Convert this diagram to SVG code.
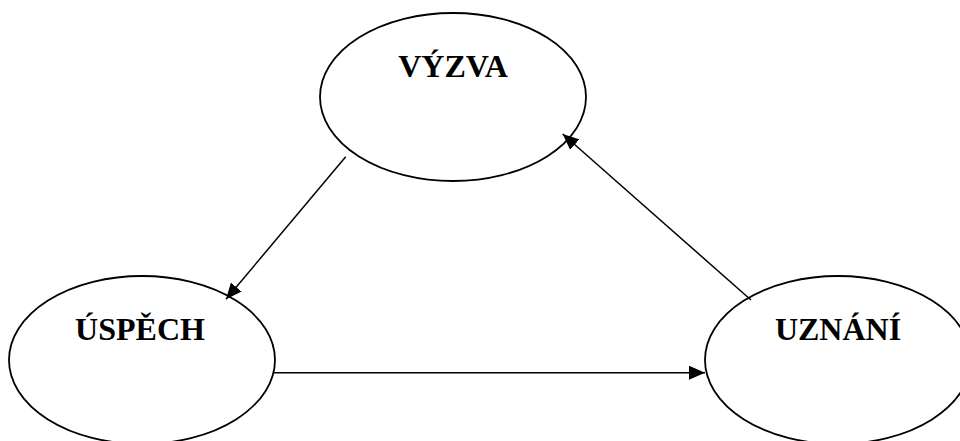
<svg xmlns="http://www.w3.org/2000/svg" width="960" height="441" viewBox="0 0 960 441">
<style>
.node{fill:#fff;stroke:#000;stroke-width:1.8}
.lbl{font-family:"Liberation Serif","Times New Roman",serif;font-weight:bold;font-size:32px;fill:#000;text-anchor:middle}
.edge{stroke:#000;stroke-width:1.5;fill:none}
</style>
<defs>
<marker id="arr" markerUnits="userSpaceOnUse" markerWidth="16" markerHeight="14" refX="16" refY="7" orient="auto">
<path d="M0,0 L16,7 L0,14 z" fill="#000"/>
</marker>
</defs>
<rect width="960" height="441" fill="#fff"/>
<g id="vyzva">
<ellipse class="node" cx="453" cy="97" rx="133" ry="84"/>
<text class="lbl" x="453" y="77">VÝZVA</text>
</g>
<g id="uspech">
<ellipse class="node" cx="142" cy="360" rx="133" ry="84"/>
<text class="lbl" x="140" y="340">ÚSPĚCH</text>
</g>
<g id="uznani">
<ellipse class="node" cx="838" cy="360" rx="133" ry="84"/>
<text class="lbl" x="838" y="340">UZNÁNÍ</text>
</g>
<g id="connectors">
<line class="edge" x1="345.7" y1="156.7" x2="226" y2="299.3" marker-end="url(#arr)"/>
<line class="edge" x1="751" y1="300" x2="562.7" y2="134" marker-end="url(#arr)"/>
<line class="edge" x1="273.3" y1="372.7" x2="705" y2="372.7" marker-end="url(#arr)"/>
</g>
</svg>
